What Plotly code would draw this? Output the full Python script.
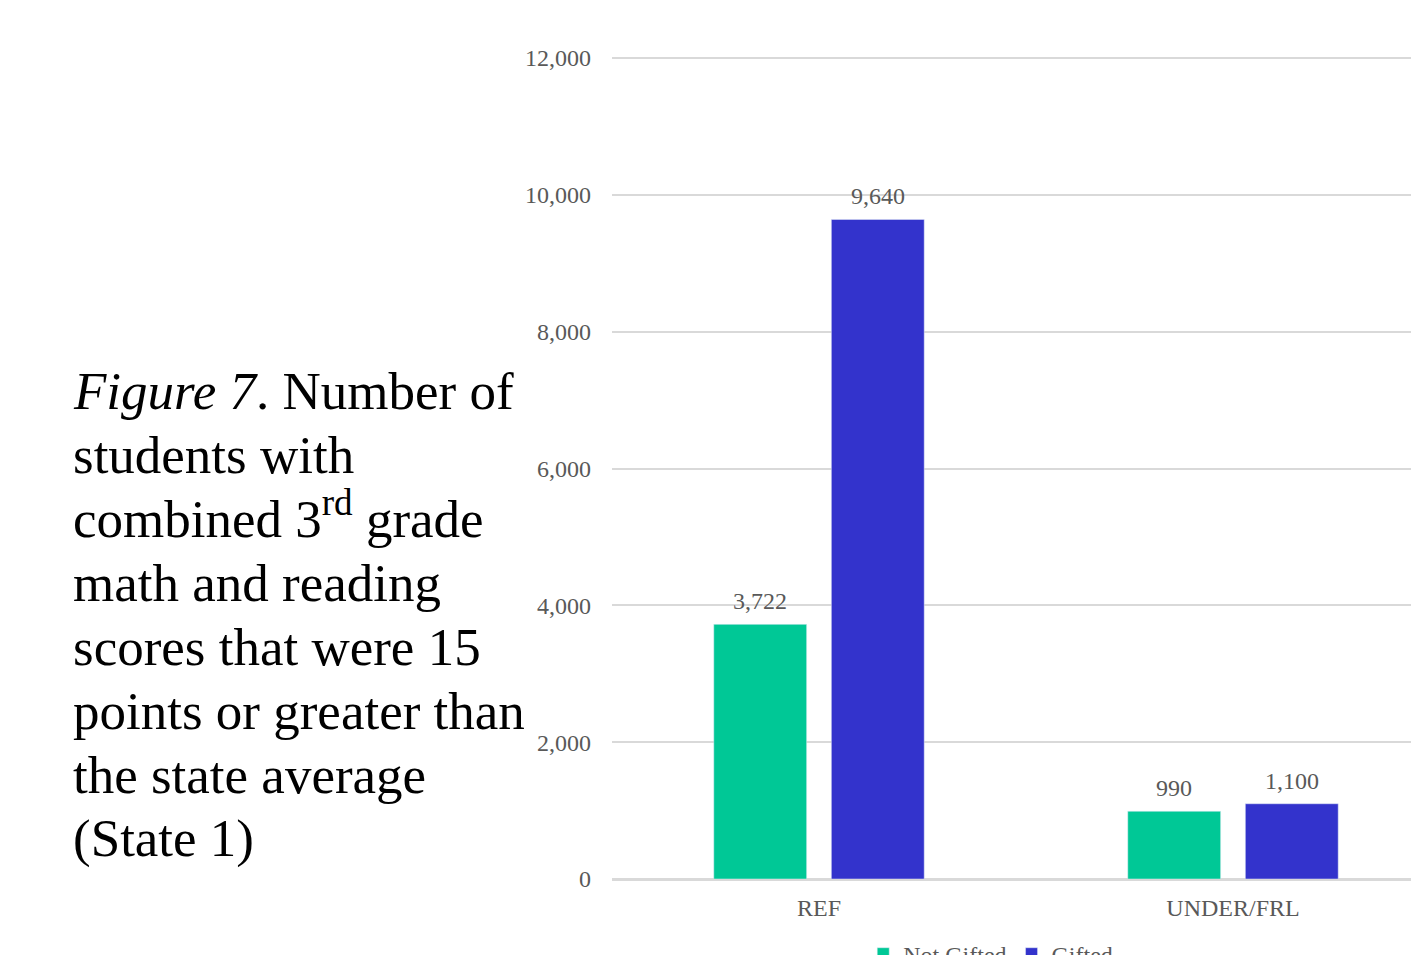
import plotly.graph_objects as go

categories = ["REF", "UNDER/FRL"]
not_gifted = [3722, 990]
gifted = [9640, 1100]
series_names = ["Not Gifted", "Gifted"]
tick_vals = [0, 2000, 4000, 6000, 8000, 10000, 12000]
tick_text = ["0", "2,000", "4,000", "6,000", "8,000", "10,000", "12,000"]
caption_lines = [
    "<i>Figure 7</i>. Number of",
    "students with",
    "combined 3<sup>rd</sup> grade",
    "math and reading",
    "scores that were 15",
    "points or greater than",
    "the state average",
    "(State 1)",
]

GREEN = "#00C896"
BLUE = "#3333CC"
FONT = "Liberation Serif, Times New Roman, serif"
GRAY = "#595959"

W, H = 1411, 955
ML, MT, MB = 612, 57, 76
PLOT_H = H - MT - MB
PLOT_W = W - ML
X_RANGE = [-0.5, 1.43]
BARGAP, BARGROUPGAP = 0.432, 0.21

fig = go.Figure()
fig.add_trace(go.Bar(x=categories, y=not_gifted, name=series_names[0], marker_color=GREEN))
fig.add_trace(go.Bar(x=categories, y=gifted, name=series_names[1], marker_color=BLUE))

# value labels above each bar (offset by half a bar slot within each group)
cat_px = PLOT_W / (X_RANGE[1] - X_RANGE[0])
slot_px = cat_px * (1 - BARGAP) / 2
for si, series in enumerate([not_gifted, gifted]):
    shift = (si - 0.5) * slot_px
    for cat, v in zip(categories, series):
        fig.add_annotation(
            xref="x", yref="y", x=cat, y=v, xshift=shift, yshift=8,
            xanchor="center", yanchor="bottom", showarrow=False,
            text=f"{v:,}", font=dict(family=FONT, size=24, color=GRAY),
        )

fig.update_layout(
    width=W, height=H,
    margin=dict(l=ML, r=0, t=MT, b=MB, autoexpand=False),
    paper_bgcolor="white", plot_bgcolor="white",
    barmode="group", bargap=BARGAP, bargroupgap=BARGROUPGAP,
    font=dict(family=FONT, color=GRAY),
    showlegend=True,
    legend=dict(orientation="h", x=0.474, xanchor="center", y=-0.064, yanchor="top",
                font=dict(family=FONT, size=24, color=GRAY),
                itemwidth=30, traceorder="normal"),
    xaxis=dict(range=X_RANGE, showgrid=False, showline=True,
               linecolor="#d9d9d9", linewidth=2,
               tickfont=dict(family=FONT, size=24, color=GRAY),
               ticks="", ticklabelstandoff=6),
    yaxis=dict(range=[0, 12015], tickvals=tick_vals, ticktext=tick_text,
               showgrid=True, gridcolor="#d9d9d9", gridwidth=2,
               zeroline=True, zerolinecolor="#d9d9d9", zerolinewidth=2,
               tickfont=dict(family=FONT, size=24, color=GRAY),
               ticks="", ticklabelstandoff=20),
)

CAP_SIZE = 53
first_baseline = 405
line_step = 64
left_px = 71
for i, line in enumerate(caption_lines):
    baseline = first_baseline + i * line_step
    bottom_px = baseline + 0.32 * CAP_SIZE
    fig.add_annotation(
        xref="paper", yref="paper",
        x=(left_px - ML) / PLOT_W, y=(H - MB - bottom_px) / PLOT_H,
        xanchor="left", yanchor="bottom", align="left", showarrow=False,
        text=line, font=dict(family=FONT, size=CAP_SIZE, color="black"),
    )

fig.write_html("out.html")
